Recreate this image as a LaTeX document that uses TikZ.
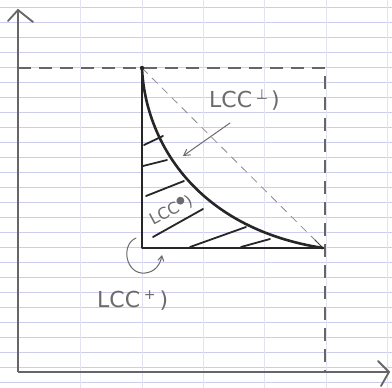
\documentclass[tikz,border=0pt]{standalone}
\usepackage{fontspec}
\setmainfont{DejaVu Sans}
\usetikzlibrary{arrows.meta}
\definecolor{paperblue}{HTML}{CCCCEC}
\definecolor{papervert}{HTML}{E2E2F2}
\begin{document}
\begin{tikzpicture}[x=1pt,y=-1pt,
  paperline/.style={draw=paperblue,line width=0.7pt},
  paperv/.style={draw=papervert,line width=0.7pt},
  axisline/.style={draw=black!60,line width=1.8pt},
  boxdash/.style={draw=black!60,line width=1.8pt,dash pattern=on 13pt off 8pt},
  thick2/.style={draw=black!85,line width=2.6pt,line cap=round,line join=round},
  hatch/.style={draw=black!85,line width=1.8pt,line cap=round},
  diag/.style={draw=black!45,line width=0.8pt,dash pattern=on 8pt off 6pt},
  lbl/.style={text=black!58,font=\fontsize{22}{22}\selectfont,inner sep=0pt},
  pencil/.style={draw=black!58,line width=1pt,line cap=round}]
\useasboundingbox (0,0) rectangle (392,388);
\fill[white] (0,0) rectangle (392,388);
% lined paper
\foreach \k in {0,...,25} {\draw[paperline] (0,7.5+15*\k) -- (392,7.5+15*\k);}
\foreach \xx in {80,142,203,264,326,387} {\draw[paperv] (\xx,0) -- (\xx,388);}
% coordinates
\coordinate (O) at (18,372);
\coordinate (Ytop) at (18,10);
\coordinate (Xend) at (389,372);
\coordinate (TL) at (18,68);
\coordinate (TR) at (325,68);
\coordinate (BR) at (325,372);
\coordinate (A) at (142,68);
\coordinate (C) at (142,248);
\coordinate (B) at (323,248);
% axes
\draw[axisline] (O) -- (Ytop);
\draw[axisline,line cap=round] (8,21) -- (Ytop) -- (33,22);
\draw[axisline] (O) -- (Xend);
\draw[axisline,line cap=round] (378,361) -- (Xend) -- (381,386);
% dashed box
\draw[boxdash] (TL) -- (TR) -- (BR);
% diagonal
\draw[diag] (A) -- (B);
\draw[pencil,draw=black!75] (315,240) -- (B) -- (313,246);
% region
\draw[thick2] (A) -- (C) -- (B);
\draw[thick2] (A) .. controls (145,140) and (195,228) .. (B);
\fill[black!85] (A) circle (2.2pt);
% hatching
\draw[hatch] (144,145) -- (163,136);
\draw[hatch] (143,166) -- (167,160);
\draw[hatch] (146,196) -- (184,181);
\draw[hatch] (153,237) -- (203,209);
\draw[hatch] (190,247) -- (246,227);
\draw[hatch] (241,247) -- (270,239);
% labels
\node[lbl,anchor=base west] (lperp) at (209,107) {LCC\,\raisebox{8pt}{\fontsize{14}{14}\selectfont ⊥}\hspace{3pt})};
\coordinate (pt) at (183,156);
\draw[pencil,-{Straight Barb[length=6pt,width=7pt]}] (230,123) -- (pt);
\node[lbl,rotate=28,anchor=base west,font=\fontsize{16}{16}\selectfont] (lstar) at (153,226) {LCC\raisebox{6pt}{\fontsize{10}{10}\selectfont ●})};
\node[lbl,anchor=base west] (lplus) at (97,307) {LCC\,\raisebox{8pt}{\fontsize{14}{14}\selectfont +}\hspace{4pt})};
\draw[pencil,-{Straight Barb[length=5pt,width=6pt]}] (136,238) .. controls (120,245) and (126,275) .. (145,273) .. controls (155,272) and (160,265) .. (162,255);
\end{tikzpicture}
\end{document}
